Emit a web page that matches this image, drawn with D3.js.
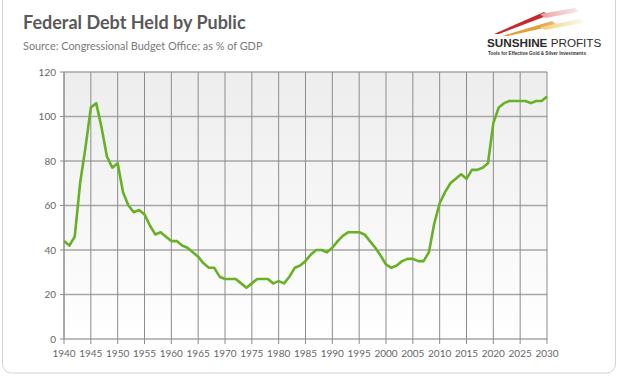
<!DOCTYPE html>
<html>
<head>
<meta charset="utf-8">
<script src="https://cdn.jsdelivr.net/npm/d3@7"></script>
<style>
  body { margin: 0; background: #fff; }
  svg { display: block; }
</style>
</head>
<body>
<script>
const years = d3.range(1940, 2031)
const debt = [
    44, 42, 46, 70, 86, 104, 106, 95, 82, 77,
    79, 66, 60, 57, 58, 56, 51, 47, 48, 46,
    44, 44, 42, 41, 39, 37, 34, 32, 32, 28,
    27, 27, 27, 25, 23, 25, 27, 27, 27, 25,
    26, 25, 28, 32, 33, 35, 38, 40, 40, 39,
    41, 44, 46.5, 48, 48, 48, 47, 44, 41, 37.5,
    33.5, 32, 33, 35, 36, 36, 35, 35, 39, 52,
    61, 66, 70, 72, 74, 72, 76, 76, 77, 79,
    97, 104, 106, 107, 107, 107, 107, 106, 107, 107,
    109
]
const yTicks = [0, 20, 40, 60, 80, 100, 120]
const xTicks = d3.range(1940, 2031, 5)

const m = { width: 619, height: 384 }
const plot = { left: 64, right: 547, top: 72, bottom: 339 }

const svg = d3.select('body').append('svg')
    .attr('width', m.width)
    .attr('height', m.height)

const defs = svg.append('defs')
const grad = defs.append('linearGradient')
    .attr('id', 'bg')
    .attr('x1', 0).attr('y1', 0).attr('x2', 0).attr('y2', 1)
grad.append('stop').attr('offset', '0%').attr('stop-color', '#ededed')
grad.append('stop').attr('offset', '100%').attr('stop-color', '#ffffff')

const swoosh = defs.append('linearGradient')
    .attr('id', 'fade')
    .attr('x1', 0).attr('y1', 0).attr('x2', 1).attr('y2', 0)
swoosh.append('stop').attr('offset', '0%').attr('stop-color', '#fff').attr('stop-opacity', 1)
swoosh.append('stop').attr('offset', '100%').attr('stop-color', '#fff').attr('stop-opacity', 0)

// outer frame
svg.append('rect')
    .attr('x', 2.5).attr('y', -8)
    .attr('width', 613).attr('height', 381)
    .attr('rx', 9)
    .attr('fill', 'none')
    .attr('stroke', '#d4d4d4')
    .attr('stroke-width', 1)

svg.append('text')
    .attr('x', 23).attr('y', 29)
    .attr('font-family', 'Lato, "Open Sans", sans-serif')
    .attr('font-weight', 'bold')
    .attr('font-size', 18)
    .attr('fill', '#595959')
    .text('Federal Debt Held by Public')

svg.append('text')
    .attr('x', 23).attr('y', 50)
    .attr('font-family', 'Lato, "Open Sans", sans-serif')
    .attr('font-size', 10.9)
    .attr('fill', '#7a7a7a')
    .text('Source: Congressional Budget Office; as % of GDP')

// logo
const logo = svg.append('g')
logo.append('path')
    .attr('d', 'M494,34 L544,12 L549,15 L499,34 Z')
    .attr('fill', '#c8282d')
logo.append('path')
    .attr('d', 'M502,36 L552,21 L557,25 L508,36 Z')
    .attr('fill', '#e3a03a')
logo.append('path')
    .attr('d', 'M540,27 L580,19 L583,23 L545,30 Z')
    .attr('fill', '#efcf7a')
logo.append('path')
    .attr('d', 'M540,14 L575,8 L578,12 L545,18 Z')
    .attr('fill', '#e9a0a0')
logo.append('rect')
    .attr('x', 540).attr('y', 4).attr('width', 50).attr('height', 34)
    .attr('fill', 'url(#fade)')
    .attr('transform', 'rotate(180 565 21)')
logo.append('text')
    .attr('x', 487).attr('y', 47)
    .attr('font-family', '"Liberation Sans", Arial, sans-serif')
    .attr('font-size', 11.7)
    .attr('fill', '#2b2b2b')
    .call(t => {
        t.append('tspan').attr('font-weight', 'bold').text('SUNSHINE')
        t.append('tspan').text(' PROFITS')
    })
logo.append('text')
    .attr('x', 488).attr('y', 55)
    .attr('font-family', '"Liberation Sans", Arial, sans-serif')
    .attr('font-size', 4.6)
    .attr('font-weight', 'bold')
    .attr('fill', '#333')
    .text('Tools for Effective Gold & Silver Investments')

const x = d3.scaleLinear().domain([1940, 2030]).range([plot.left, plot.right])
const y = d3.scaleLinear().domain([0, 120]).range([plot.bottom, plot.top])

svg.append('rect')
    .attr('x', plot.left).attr('y', plot.top)
    .attr('width', plot.right - plot.left)
    .attr('height', plot.bottom - plot.top)
    .attr('fill', 'url(#bg)')

const g = svg.append('g')

g.selectAll('.hgrid')
    .data(yTicks)
    .enter()
    .append('line')
    .attr('x1', plot.left).attr('x2', plot.right)
    .attr('y1', d => y(d)).attr('y2', d => y(d))
    .attr('stroke', '#a6a6a6')
    .attr('stroke-width', d => d === 0 ? 1.6 : 1.3)

g.selectAll('.vgrid')
    .data(xTicks)
    .enter()
    .append('line')
    .attr('x1', d => x(d)).attr('x2', d => x(d))
    .attr('y1', plot.top).attr('y2', plot.bottom + 5)
    .attr('stroke', '#8c8c8c')
    .attr('stroke-width', 1)

g.selectAll('.ytick')
    .data(yTicks)
    .enter()
    .append('line')
    .attr('x1', plot.left - 4).attr('x2', plot.left)
    .attr('y1', d => y(d)).attr('y2', d => y(d))
    .attr('stroke', '#8c8c8c')

g.append('line')
    .attr('x1', plot.left).attr('x2', plot.left)
    .attr('y1', plot.top).attr('y2', plot.bottom)
    .attr('stroke', '#8c8c8c')

g.selectAll('.ylab')
    .data(yTicks)
    .enter()
    .append('text')
    .attr('x', plot.left - 8)
    .attr('y', d => y(d) + 3.5)
    .attr('text-anchor', 'end')
    .attr('font-family', 'Lato, "Open Sans", sans-serif')
    .attr('font-size', 10)
    .attr('fill', '#666')
    .text(d => d)

g.selectAll('.xlab')
    .data(xTicks)
    .enter()
    .append('text')
    .attr('x', d => x(d))
    .attr('y', 357)
    .attr('text-anchor', 'middle')
    .attr('font-family', 'Lato, "Open Sans", sans-serif')
    .attr('font-size', 10)
    .attr('fill', '#666')
    .text(d => d)

const line = d3.line()
    .x((d, i) => x(years[i]))
    .y(d => y(d))

g.append('path')
    .datum(debt)
    .attr('fill', 'none')
    .attr('stroke', '#68b024')
    .attr('stroke-width', 2.6)
    .attr('stroke-linejoin', 'round')
    .attr('d', line)
</script>
</body>
</html>
